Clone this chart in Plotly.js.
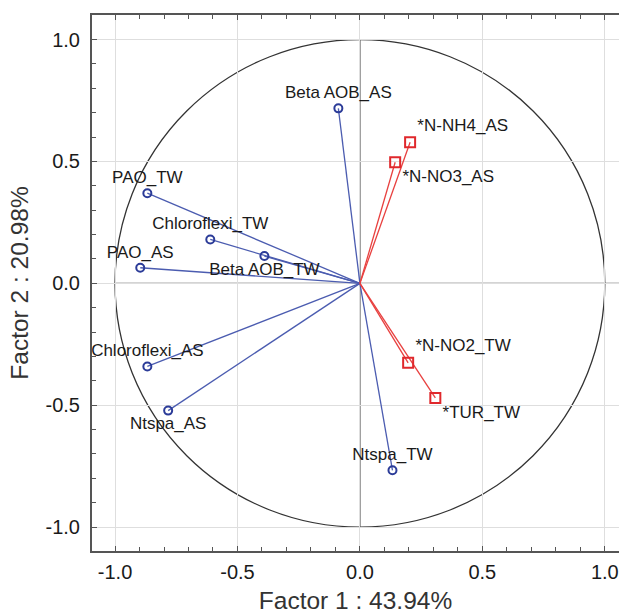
<!DOCTYPE html>
<html>
<head>
<meta charset="utf-8">
<script src="https://cdn.plot.ly/plotly-3.0.1.min.js"></script>
<style>html,body{margin:0;padding:0;overflow:hidden;background:#fff;}</style>
</head>
<body>
<div id="chart" style="width:619px;height:614px;"></div>
<script>
// Active variables (blue circles)
const bioNames = ["Beta AOB_AS","PAO_TW","Chloroflexi_TW","Beta AOB_TW","PAO_AS","Chloroflexi_AS","Ntspa_AS","Ntspa_TW"];
const bioF1 = [-0.088, -0.868, -0.611, -0.390, -0.897, -0.868, -0.783, 0.133];
const bioF2 = [0.718, 0.370, 0.180, 0.112, 0.064, -0.341, -0.522, -0.767];
const bioTextPos = ["top center","top center","top center","bottom center","top center","top center","bottom center","top center"];

// Supplementary variables (red squares)
const envNames = ["*N-NH4_AS","*N-NO3_AS","*N-NO2_TW","*TUR_TW"];
const envF1 = [0.205, 0.144, 0.197, 0.308];
const envF2 = [0.579, 0.497, -0.326, -0.470];
const envTextPos = ["top right","bottom right","top right","bottom right"];

const tickVals = [-1.0, -0.5, 0.0, 0.5, 1.0];
const tickText = ["-1.0", "-0.5", "0.0", "0.5", "1.0"];
const xTitle = "Factor 1 : 43.94%";
const yTitle = "Factor 2 : 20.98%";

function vectors(xs, ys) {
  const vx = [], vy = [];
  xs.forEach((x, i) => { vx.push(0, x, null); vy.push(0, ys[i], null); });
  return {vx, vy};
}
const bv = vectors(bioF1, bioF2);
const ev = vectors(envF1, envF2);

const XR = [-1.094, 1.058];
const YR = [-1.098, 1.101];
const FONT = "Liberation Sans, Arial, sans-serif";

const traces = [
  {x: bv.vx, y: bv.vy, mode: "lines", line: {color: "#4b5cb0", width: 1.3}, hoverinfo: "skip", showlegend: false},
  {x: ev.vx, y: ev.vy, mode: "lines", line: {color: "#e8403f", width: 1.3}, hoverinfo: "skip", showlegend: false},
  {x: bioF1, y: bioF2, text: bioNames, mode: "markers+text", textposition: bioTextPos,
   textfont: {family: FONT, size: 17, color: "#1a1a1a"},
   marker: {symbol: "circle-open", size: 8, color: "#2b3b98", line: {width: 2, color: "#2b3b98"}},
   showlegend: false},
  {x: envF1, y: envF2, text: envNames, mode: "markers+text", textposition: envTextPos,
   textfont: {family: FONT, size: 17, color: "#1a1a1a"},
   marker: {symbol: "square-open", size: 10, color: "#e0282c", line: {width: 2, color: "#e0282c"}},
   showlegend: false},
  {x: [0], y: [0], xaxis: "x2", mode: "markers", marker: {opacity: 0}, hoverinfo: "skip", showlegend: false}
];

const axisCommon = {
  showgrid: true, gridcolor: "#dedede", gridwidth: 1,
  zeroline: false, showline: true, linecolor: "#555", linewidth: 2,
  ticks: "inside", ticklen: 5, tickcolor: "#555", tickwidth: 1,
  tickvals: tickVals, ticktext: tickText,
  minor: {dtick: 0.1, tick0: 0, ticks: "inside", ticklen: 4, tickcolor: "#555", showgrid: false},
  tickfont: {family: FONT, size: 20, color: "#1a1a1a"}
};

const layout = {
  width: 619, height: 614,
  margin: {l: 92, r: 0, t: 15, b: 63},
  paper_bgcolor: "#fff", plot_bgcolor: "#fff",
  xaxis: Object.assign({}, axisCommon, {
    range: XR, ticklabelstandoff: 2,
    title: {text: xTitle, font: {family: FONT, size: 24.5, color: "#333"}, standoff: 15}
  }),
  xaxis2: Object.assign({}, axisCommon, {
    range: XR, overlaying: "x", side: "top", showticklabels: false, showgrid: false, matches: "x"
  }),
  yaxis: Object.assign({}, axisCommon, {
    range: YR, ticklabelstandoff: 6,
    title: {text: yTitle, font: {family: FONT, size: 24.5, color: "#333"}, standoff: 10}
  }),
  shapes: [
    {type: "circle", xref: "x", yref: "y", x0: -1, y0: -1, x1: 1, y1: 1, line: {color: "#333", width: 1.3}, layer: "below"},
    {type: "line", xref: "x", yref: "y", x0: 0, x1: 0, y0: -1, y1: 1, line: {color: "#555", width: 1.3}, layer: "below"},
    {type: "line", xref: "x", yref: "y", x0: -1, x1: XR[1], y0: 0, y1: 0, line: {color: "#555", width: 1.3}, layer: "below"}
  ],
  font: {family: FONT}
};

Plotly.newPlot("chart", traces, layout, {displayModeBar: false, staticPlot: true});
</script>
</body>
</html>
